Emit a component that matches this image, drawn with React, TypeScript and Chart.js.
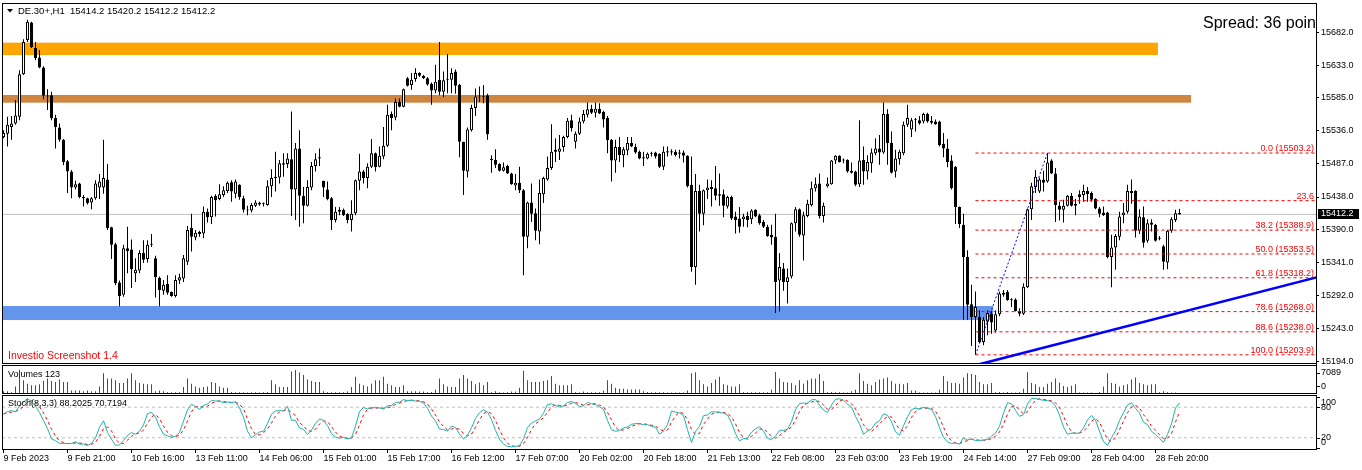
import React, { useEffect, useRef } from "react";
import { Chart, registerables } from "chart.js";

Chart.register(...registerables);

const FONT = "'Liberation Sans', Arial, sans-serif";
Chart.defaults.font.family = FONT;

// ---------------- data ----------------
const symbolTitle = "DE.30+,H1";
const lastQuote = ["15414.2", "15420.2", "15412.2", "15412.2"];
const spreadText = "Spread: 36 points";
const watermarkText = "Investio Screenshot 1.4";
const volumeTitle = "Volumes 123";
const stochTitle = "Stoch(8,3,3) 88.2025 70.7194";

const opens = [
  15527,15532,15542,15547,15557,15620,15671,15697,15659,15645,
  15630,15588,15589,15555,15541,15523,15491,15476,15452,15458,
  15438,15436,15430,15436,15452,15452,15464,15393,15368,15311,
  15293,15362,15360,15325,15329,15355,15346,15368,15347,15318,
  15299,15309,15297,15291,15314,15317,15342,15392,15378,15383,
  15384,15416,15408,15440,15435,15441,15447,15460,15443,15456,
  15436,15419,15418,15425,15429,15428,15426,15454,15466,15467,
  15488,15487,15494,15449,15510,15440,15425,15452,15484,15495,
  15462,15449,15436,15404,15419,15419,15413,15404,15414,15462,
  15476,15466,15483,15503,15483,15498,15514,15561,15556,15579,
  15572,15614,15604,15613,15622,15618,15614,15606,15596,15612,
  15594,15613,15612,15624,15604,15520,15476,15537,15570,15587,
  15587,15589,15493,15493,15487,15477,15484,15473,15455,15459,
  15448,15379,15430,15414,15387,15442,15464,15481,15505,15505,
  15512,15527,15552,15520,15532,15550,15560,15569,15563,15569,
  15564,15555,15523,15492,15512,15500,15507,15518,15512,15505,
  15497,15495,15502,15504,15502,15483,15506,15506,15505,15504,
  15504,15499,15456,15334,15447,15413,15448,15453,15451,15442,
  15442,15424,15438,15409,15406,15405,15410,15405,15419,15411,
  15401,15394,15382,15379,15314,15332,15312,15320,15399,15420,
  15381,15410,15426,15451,15458,15410,15454,15457,15492,15499,
  15493,15493,15477,15476,15457,15493,15476,15488,15503,15510,
  15504,15561,15518,15476,15494,15503,15545,15538,15552,15552,
  15550,15561,15551,15550,15550,15517,15510,15492,15483,15423,
  15397,15349,15279,15260,15260,15223,15253,15265,15240,15264,
  15293,15297,15285,15286,15269,15265,15304,15420,15453,15446,
  15464,15461,15492,15473,15425,15419,15425,15440,15428,15442,
  15441,15447,15444,15435,15421,15415,15415,15349,15363,15379,
  15411,15416,15447,15447,15388,15408,15373,15400,15397,15377,
  15365,15341,15388,15404,15414.2,
];
const highs = [
  15537,15557,15558,15582,15626,15672,15701,15698,15668,15656,
  15632,15598,15594,15560,15547,15524,15493,15478,15462,15459,
  15441,15437,15438,15463,15472,15523,15487,15394,15370,15314,
  15367,15394,15375,15347,15359,15374,15374,15383,15351,15320,
  15315,15322,15298,15322,15324,15352,15395,15413,15389,15388,
  15424,15421,15440,15442,15457,15454,15461,15463,15464,15457,
  15440,15425,15429,15433,15431,15430,15463,15479,15505,15493,
  15503,15503,15565,15518,15537,15453,15463,15490,15503,15510,
  15462,15461,15438,15423,15423,15421,15414,15433,15464,15502,
  15478,15488,15524,15504,15513,15542,15575,15565,15584,15584,
  15599,15616,15622,15629,15623,15619,15616,15608,15634,15668,
  15624,15650,15629,15627,15606,15520,15541,15575,15599,15602,
  15604,15591,15500,15509,15488,15489,15486,15474,15472,15483,
  15450,15431,15458,15421,15464,15468,15498,15546,15525,15530,
  15529,15555,15560,15535,15556,15567,15578,15575,15578,15577,
  15566,15558,15524,15523,15527,15512,15527,15527,15517,15507,
  15505,15504,15505,15505,15503,15513,15513,15509,15508,15508,
  15507,15500,15498,15472,15456,15449,15464,15463,15484,15473,
  15449,15440,15440,15416,15423,15413,15416,15420,15420,15413,
  15404,15397,15397,15413,15355,15340,15332,15400,15423,15421,
  15416,15434,15461,15467,15473,15430,15467,15493,15500,15500,
  15495,15494,15489,15477,15552,15513,15500,15510,15525,15530,
  15578,15568,15535,15508,15508,15550,15575,15555,15555,15558,
  15563,15563,15558,15553,15551,15533,15524,15500,15484,15424,
  15413,15359,15308,15298,15270,15260,15270,15269,15270,15298,
  15300,15300,15288,15288,15273,15310,15421,15459,15478,15467,
  15477,15503.2,15494,15481,15431,15434,15441,15444,15435,15448,
  15456,15453,15446,15436,15423,15424,15416,15382,15383,15416,
  15429,15456,15464,15448,15420,15424,15405,15405,15398,15380,
  15367,15389,15408,15419,15420.2,
];
const lows = [
  15525,15513,15523,15545,15552,15619,15668,15659,15641,15629,
  15583,15567,15552,15510,15520,15485,15444,15436,15449,15436,
  15424,15427,15420,15434,15435,15443,15389,15346,15307,15276,
  15290,15325,15303,15312,15325,15340,15341,15364,15289,15276,
  15293,15293,15290,15289,15309,15312,15337,15357,15374,15379,
  15377,15400,15398,15409,15433,15438,15444,15431,15436,15434,
  15415,15411,15415,15423,15425,15424,15425,15438,15446,15458,
  15468,15481,15410,15404,15394,15399,15424,15448,15476,15484,
  15438,15433,15389,15400,15411,15410,15399,15387,15411,15448,
  15458,15451,15481,15476,15482,15494,15512,15537,15552,15571,
  15571,15602,15597,15609,15616,15613,15603,15575,15592,15589,
  15586,15592,15592,15591,15497,15441,15467,15535,15558,15579,
  15577,15523,15474,15481,15476,15476,15472,15456,15448,15444,
  15322,15362,15401,15374,15368,15429,15462,15478,15490,15493,
  15505,15525,15535,15510,15530,15547,15556,15561,15556,15561,
  15541,15503,15461,15474,15490,15482,15500,15512,15502,15494,
  15484,15494,15498,15495,15481,15478,15498,15500,15498,15495,
  15489,15452,15327,15308,15387,15396,15435,15424,15433,15425,
  15408,15421,15404,15384,15385,15394,15393,15398,15408,15397,
  15392,15379,15367,15266,15268,15299,15280,15317,15387,15379,
  15344,15408,15424,15446,15406,15400,15452,15456,15487,15489,
  15488,15474,15473,15454,15453,15456,15464,15474,15500,15486,
  15502,15486,15473,15467,15486,15500,15542,15527,15535,15545,
  15547,15548,15546,15545,15513,15497,15482,15449,15398,15392,
  15256,15256,15217,15203.9,15221,15218,15233,15235,15237,15261,
  15290,15284,15275,15268,15261,15263,15303,15404,15444,15444,
  15446,15459,15472,15401,15403,15400,15424,15424,15411,15428,
  15431,15431,15431,15420,15408,15410,15347,15304,15330,15374,
  15399,15413,15428,15378,15383,15363,15370,15387,15372,15374,
  15330,15331,15385,15401,15412.2,
];
const closes = [
  15533,15545,15547,15559,15620,15668,15698,15660,15644,15630,
  15588,15587,15555,15542,15523,15490,15476,15452,15457,15438,
  15436,15429,15436,15458,15461,15466,15392,15367,15310,15291,
  15362,15358,15331,15330,15355,15345,15367,15367,15319,15300,
  15308,15296,15291,15315,15319,15347,15389,15379,15385,15386,
  15416,15408,15438,15433,15442,15448,15459,15446,15461,15438,
  15419,15418,15426,15430,15427,15428,15454,15466,15468,15488,
  15486,15495,15449,15510,15440,15425,15453,15484,15494,15497,
  15452,15435,15404,15416,15416,15411,15404,15413,15463,15476,
  15466,15483,15503,15482,15499,15514,15560,15555,15579,15572,
  15598,15603,15612,15622,15618,15614,15605,15596,15609,15594,
  15611,15612,15622,15603,15520,15477,15538,15570,15587,15587,
  15586,15531,15493,15486,15477,15482,15473,15457,15459,15448,
  15379,15430,15413,15388,15444,15466,15481,15505,15508,15510,
  15527,15551,15540,15532,15550,15561,15568,15563,15569,15562,
  15553,15522,15492,15512,15500,15509,15518,15513,15504,15495,
  15495,15502,15502,15498,15483,15505,15504,15504,15500,15502,
  15499,15454,15334,15447,15413,15448,15452,15450,15440,15440,
  15425,15438,15406,15404,15394,15409,15404,15418,15409,15399,
  15394,15380,15378,15312,15334,15312,15319,15399,15420,15382,
  15411,15428,15451,15457,15410,15425,15458,15492,15499,15490,
  15492,15476,15474,15456,15492,15476,15490,15504,15510,15504,
  15561,15518,15474,15495,15505,15545,15555,15552,15552,15547,
  15561,15550,15548,15546,15515,15510,15490,15451,15423,15398,
  15349,15278,15260,15275,15223,15256,15266,15252,15264,15295,
  15296,15285,15285,15269,15265,15305,15420,15454,15468,15464,
  15459,15489,15473,15426,15419,15425,15440,15425,15425,15438,
  15447,15442,15434,15421,15413,15411,15349,15363,15380,15409,
  15415,15447,15444,15388,15409,15370,15399,15397,15373,15376,
  15342,15388,15405,15414,15412.2,
];
const volumes = [
  630,630,315,2100,5250,4000,2940,2415,2415,2730,
  3780,4515,3780,3465,4200,3465,3465,840,840,840,
  630,840,630,630,2100,6090,4515,4515,4000,3150,
  3150,4515,6090,4000,3150,2940,2730,2730,630,840,
  630,315,315,315,315,1890,4515,2940,2100,1680,
  1890,2100,3465,3150,2100,1680,1680,420,315,315,
  315,210,315,315,210,315,420,4000,2730,1890,
  1890,1890,6615,7089,6300,5565,4200,3780,3465,3465,
  630,315,315,315,315,315,525,1890,5040,2940,
  2415,2100,2940,4000,4000,5040,2940,2415,1890,1890,
  2415,630,630,630,525,525,315,420,1050,4515,
  2730,2100,1890,1890,4515,5565,4515,3780,2730,3255,
  2415,3465,315,630,315,210,315,525,525,1680,
  6825,4000,3465,3465,3465,3780,4000,5250,2940,2415,
  2415,2415,2730,315,210,525,315,315,315,315,
  840,4000,2940,1680,1365,1365,1155,1155,1155,1155,
  630,420,315,315,315,315,210,210,210,210,
  210,840,6090,6405,4000,2730,2100,3150,4200,5040,
  2730,2415,2100,2100,2730,315,315,315,315,315,
  315,315,1050,6510,4515,3465,3255,3150,2415,4000,
  2940,4000,4515,4515,5880,3780,315,420,315,315,
  210,210,630,1050,6090,3780,2940,2415,3465,4200,
  4515,4830,3780,2940,2940,2730,3150,840,840,210,
  210,210,210,210,1050,5250,3675,3150,3150,2940,
  4830,6090,5880,5565,3465,2730,2730,3150,315,420,
  210,420,210,210,315,1365,6405,3150,2730,1890,
  1890,2940,3465,4515,3255,2205,1890,2310,2730,210,
  210,210,210,105,420,2100,6090,3150,2940,2100,
  2415,2730,4200,4830,3150,2730,2415,2730,2730,315,
  630,315,210,210,105,
];

const timeLabels = [
  "9 Feb 2023", "9 Feb 21:00", "10 Feb 16:00", "13 Feb 11:00", "14 Feb 06:00",
  "15 Feb 01:00", "15 Feb 17:00", "16 Feb 12:00", "17 Feb 07:00", "20 Feb 02:00",
  "20 Feb 18:00", "21 Feb 13:00", "22 Feb 08:00", "23 Feb 03:00", "23 Feb 19:00",
  "24 Feb 14:00", "27 Feb 09:00", "28 Feb 04:00", "28 Feb 20:00",
];
const barsPerLabel = 16;

const priceTicks = [15682.0, 15633.0, 15585.0, 15536.0, 15487.0, 15438.0, 15390.0, 15341.0, 15292.0, 15243.0, 15194.0];
const priceMin = 15190.3;
const priceMax = 15725.75;

// horizontal zones (rectangles)
const zoneTops = [15666.9, 15589.3, 15276.3];
const zoneBottoms = [15648.6, 15577.9, 15255.5];
const zoneStartBars = [-20, -20, -20];
const zoneEndBars = [288.6, 296.9, 247.4];
const zoneColors = ["#FFA500", "#CD853F", "#6495ED"];

// Fibonacci retracement
const fibLevels = [15503.2, 15432.6, 15388.9, 15353.5, 15318.2, 15268.0, 15238.0, 15203.9];
const fibLabels = ["0.0 (15503.2)", "23.6", "38.2 (15388.9)", "50.0 (15353.5)", "61.8 (15318.2)", "78.6 (15268.0)", "88.6 (15238.0)", "100.0 (15203.9)"];
const fibStartBar = 243;
const fibDiagBars = [243, 261];
const fibDiagPrices = [15203.9, 15503.2];

// blue trend line
const trendBars = [236, 340];
const trendPrices = [15177.8, 15336.7];

// volume axis labels
const volumeAxisValues = [7089, 0];
const volumeAxisLabels = ["7089", "0"];

// stochastic
const stochParams = [8, 3, 3];
const stochLevels = [80, 20];
const stochAxisValues = [100, 80, 20, 0];
const stochAxisLabels = ["100", "80", "20", "0"];

// ---------------- layout constants ----------------
const W = 1362;
const AXIS_W = 46;
const X_MIN = -0.375;
const X_MAX = 328.125;

function computeStochastic(kP: number, slow: number, dP: number) {
  const n = closes.length;
  const num: number[] = [];
  const den: number[] = [];
  for (let i = 0; i < n; i++) {
    let hh = -Infinity, ll = Infinity;
    for (let j = Math.max(0, i - kP + 1); j <= i; j++) {
      hh = Math.max(hh, highs[j]);
      ll = Math.min(ll, lows[j]);
    }
    num.push(closes[i] - ll);
    den.push(hh - ll);
  }
  const k: number[] = [];
  for (let i = 0; i < n; i++) {
    let sn = 0, sd = 0;
    for (let j = Math.max(0, i - slow + 1); j <= i; j++) { sn += num[j]; sd += den[j]; }
    k.push(sd > 0 ? (100 * sn) / sd : 50);
  }
  const d: number[] = [];
  for (let i = 0; i < n; i++) {
    let s = 0, c = 0;
    for (let j = Math.max(0, i - dP + 1); j <= i; j++) { s += k[j]; c++; }
    d.push(s / c);
  }
  return { k, d };
}

const framePlugin = {
  id: "frame",
  afterDraw(chart: any) {
    const { ctx, chartArea: a } = chart;
    ctx.save();
    ctx.strokeStyle = "#000";
    ctx.lineWidth = 1;
    ctx.strokeRect(a.left + 0.5, a.top + 0.5, a.right - a.left, a.bottom - a.top - 1);
    ctx.restore();
  },
};

const baseOptions = {
  responsive: false,
  animation: false as const,
  devicePixelRatio: 1,
  events: [] as any[],
  plugins: { legend: { display: false }, tooltip: { enabled: false } },
};

function mainConfig(): any {
  const idx = closes.map((_, i) => i);
  const last = closes[closes.length - 1];
  const datasets: any[] = [
    {
      type: "line",
      data: trendBars.map((b, k) => ({ x: b, y: trendPrices[k] })),
      borderColor: "#0000FF", borderWidth: 2.6, pointRadius: 0, clip: 0, order: 0,
    },
    {
      type: "line",
      data: fibDiagBars.map((b, k) => ({ x: b, y: fibDiagPrices[k] })),
      borderColor: "#0000FF", borderWidth: 1, borderDash: [2, 2], pointRadius: 0, clip: 0, order: 0,
    },
    ...fibLevels.map((lv) => ({
      type: "line",
      data: [{ x: fibStartBar, y: lv }, { x: X_MAX, y: lv }],
      borderColor: "#FF0000", borderWidth: 1, borderDash: [3, 3], pointRadius: 0, clip: 0, order: 1,
    })),
    {
      type: "bar",
      data: idx.map((i) => ({ x: i, y: [opens[i], closes[i]] })),
      backgroundColor: idx.map((i) => (closes[i] >= opens[i] ? "#FFFFFF" : "#000000")),
      borderColor: "#000000", borderWidth: 1, borderSkipped: false,
      barThickness: 3, minBarLength: 1, grouped: false, inflateAmount: 0, order: 2,
    },
    {
      type: "bar",
      data: idx.map((i) => ({ x: i, y: [lows[i], highs[i]] })),
      backgroundColor: "#000000", borderWidth: 0, barThickness: 1,
      grouped: false, inflateAmount: 0, order: 3,
    },
    {
      type: "line",
      data: [{ x: X_MIN, y: last }, { x: X_MAX, y: last }],
      borderColor: "#C0C0C0", borderWidth: 1, pointRadius: 0, clip: 0, order: 4,
    },
  ];

  const overlay = {
    id: "mainOverlay",
    beforeDatasetsDraw(chart: any) {
      const { ctx, chartArea: a, scales } = chart;
      const x = scales.x, y = scales.y;
      ctx.save();
      ctx.beginPath();
      ctx.rect(a.left, a.top, a.right - a.left, a.bottom - a.top);
      ctx.clip();
      zoneTops.forEach((t, k) => {
        const y0 = y.getPixelForValue(t);
        const y1 = y.getPixelForValue(zoneBottoms[k]);
        const x0 = Math.max(a.left, x.getPixelForValue(zoneStartBars[k]));
        const x1 = x.getPixelForValue(zoneEndBars[k]);
        ctx.fillStyle = zoneColors[k];
        ctx.fillRect(x0, y0, x1 - x0, y1 - y0);
      });
      ctx.restore();
    },
    afterDraw(chart: any) {
      const { ctx, chartArea: a, scales } = chart;
      const y = scales.y;
      ctx.save();
      // fib labels
      ctx.font = `9px ${FONT}`;
      ctx.fillStyle = "#FF0000";
      ctx.textAlign = "right";
      ctx.textBaseline = "alphabetic";
      fibLevels.forEach((lv, k) => {
        ctx.fillText(fibLabels[k], a.right - 2, y.getPixelForValue(lv) - 2);
      });
      // header
      ctx.fillStyle = "#000";
      ctx.beginPath();
      ctx.moveTo(a.left + 5, a.top + 6);
      ctx.lineTo(a.left + 11, a.top + 6);
      ctx.lineTo(a.left + 8, a.top + 9.5);
      ctx.closePath();
      ctx.fill();
      ctx.font = `9.5px ${FONT}`;
      ctx.textAlign = "left";
      ctx.textBaseline = "middle";
      ctx.fillText(`${symbolTitle}  ${lastQuote.join(" ")}`, a.left + 16, a.top + 8);
      // watermark
      ctx.fillStyle = "#FF0000";
      ctx.font = `10.5px ${FONT}`;
      ctx.fillText(watermarkText, a.left + 6, a.bottom - 8);
      // spread (clipped by the chart frame)
      ctx.save();
      ctx.beginPath();
      ctx.rect(a.left, a.top, a.right - a.left, a.bottom - a.top);
      ctx.clip();
      ctx.fillStyle = "#000";
      ctx.font = `16px ${FONT}`;
      ctx.textBaseline = "alphabetic";
      ctx.fillText(spreadText, a.right - 113, a.top + 25);
      ctx.restore();
      // bid price label on axis
      const by = Math.round(y.getPixelForValue(last));
      ctx.fillStyle = "#000";
      ctx.fillRect(a.right + 2, by - 5, 41, 10);
      ctx.fillStyle = "#FFF";
      ctx.font = `9px ${FONT}`;
      ctx.textBaseline = "middle";
      ctx.fillText(last.toFixed(1), a.right + 5, by);
      ctx.restore();
    },
  };

  return {
    type: "bar",
    data: { datasets },
    options: {
      ...baseOptions,
      layout: { padding: { left: 2, top: 3, right: 0, bottom: 1 } },
      scales: {
        x: { type: "linear", min: X_MIN, max: X_MAX, offset: false, display: false },
        y: {
          type: "linear", position: "right", min: priceMin, max: priceMax,
          afterBuildTicks: (s: any) => { s.ticks = priceTicks.map((v) => ({ value: v })); },
          afterFit: (s: any) => { s.width = AXIS_W; s.paddingTop = 0; s.paddingBottom = 0; },
          ticks: { autoSkip: false, padding: 2, color: "#000", font: { size: 9 }, callback: (v: any) => Number(v).toFixed(1) },
          grid: { drawOnChartArea: false, drawTicks: true, tickLength: 3, color: "#000" },
          border: { display: true, color: "#000" },
        },
      },
    },
    plugins: [overlay, framePlugin],
  };
}

function volumeConfig(): any {
  const idx = volumes.map((_, i) => i);
  const colors = idx.map((i) => (i === 0 || volumes[i] > volumes[i - 1] ? "#008000" : "#FF0000"));
  const overlay = {
    id: "volOverlay",
    afterDraw(chart: any) {
      const { ctx, chartArea: a, scales } = chart;
      const y = scales.y;
      ctx.save();
      ctx.fillStyle = "#000";
      ctx.font = `9px ${FONT}`;
      ctx.textAlign = "left";
      ctx.textBaseline = "middle";
      ctx.fillText(volumeTitle, a.left + 6, a.top + 10);
      const offs = [3, -7];
      volumeAxisValues.forEach((v, k) => {
        const yy = y.getPixelForValue(v) + offs[k];
        ctx.fillText(volumeAxisLabels[k], a.right + 5, yy);
        ctx.fillRect(a.right + 1, Math.round(yy), 3, 1);
      });
      ctx.restore();
    },
  };
  return {
    type: "bar",
    data: {
      datasets: [{
        data: idx.map((i) => ({ x: i, y: volumes[i] })),
        backgroundColor: colors, borderWidth: 0, barThickness: 1, inflateAmount: 0,
      }],
    },
    options: {
      ...baseOptions,
      layout: { padding: { left: 2, top: 0, right: AXIS_W, bottom: 1 } },
      scales: {
        x: { type: "linear", min: X_MIN, max: X_MAX, offset: false, display: false },
        y: { type: "linear", min: -213, max: 8610, display: false },
      },
    },
    plugins: [overlay, framePlugin],
  };
}

function stochConfig(): any {
  const { k, d } = computeStochastic(stochParams[0], stochParams[1], stochParams[2]);
  const overlay = {
    id: "stochOverlay",
    afterDraw(chart: any) {
      const { ctx, chartArea: a, scales } = chart;
      const y = scales.y;
      ctx.save();
      ctx.fillStyle = "#000";
      ctx.font = `9px ${FONT}`;
      ctx.textAlign = "left";
      ctx.textBaseline = "middle";
      ctx.fillText(stochTitle, a.left + 6, a.top + 9);
      const offs = [5, 0, 0, -5];
      stochAxisValues.forEach((v, i) => {
        const yy = y.getPixelForValue(v);
        ctx.fillRect(a.right + 1, Math.round(yy), 3, 1);
        ctx.fillText(stochAxisLabels[i], a.right + 5, yy + offs[i]);
      });
      ctx.restore();
    },
  };
  return {
    type: "line",
    data: {
      datasets: [
        {
          data: k.map((v, i) => ({ x: i, y: v })),
          borderColor: "#20B2AA", borderWidth: 1, pointRadius: 0, tension: 0, clip: 0, order: 0,
        },
        {
          data: d.map((v, i) => ({ x: i, y: v })),
          borderColor: "#FF0000", borderWidth: 1, borderDash: [3, 3], pointRadius: 0, tension: 0, clip: 0, order: 1,
        },
        ...stochLevels.map((lv) => ({
          data: [{ x: X_MIN, y: lv }, { x: X_MAX, y: lv }],
          borderColor: "#C0C0C0", borderWidth: 1, borderDash: [3, 3], pointRadius: 0, clip: 0, order: 2,
        })),
      ],
    },
    options: {
      ...baseOptions,
      layout: { padding: { left: 2, top: 0, right: AXIS_W, bottom: 0 } },
      scales: {
        x: {
          type: "linear", position: "bottom", min: X_MIN, max: X_MAX, offset: false,
          afterBuildTicks: (s: any) => { s.ticks = timeLabels.map((_, i) => ({ value: i * barsPerLabel })); },
          afterFit: (s: any) => { s.height = 20; s.paddingLeft = 0; s.paddingRight = 0; },
          ticks: {
            autoSkip: false, maxRotation: 0, minRotation: 0, align: "start", padding: 0,
            color: "#000", font: { size: 9 }, callback: (_v: any, i: number) => timeLabels[i],
          },
          grid: { drawOnChartArea: false, drawTicks: true, tickLength: 3, color: "#000", offset: false },
          border: { display: false },
        },
        y: { type: "linear", min: -4, max: 104, display: false },
      },
    },
    plugins: [overlay, framePlugin],
  };
}

function ChartCanvas({ top, height, build }: { top: number; height: number; build: () => any }) {
  const ref = useRef<HTMLCanvasElement>(null);
  useEffect(() => {
    if (!ref.current) return;
    const chart = new Chart(ref.current, build());
    return () => chart.destroy();
  }, []);
  return (
    <canvas
      ref={ref}
      width={W}
      height={height}
      style={{ position: "absolute", left: 0, top, width: W, height, display: "block" }}
    />
  );
}

export default function App() {
  return (
    <div style={{ position: "fixed", left: 0, top: 0, width: W, height: 470, background: "#FFFFFF", overflow: "hidden" }}>
      <ChartCanvas top={0} height={365} build={mainConfig} />
      <ChartCanvas top={365} height={30} build={volumeConfig} />
      <ChartCanvas top={395} height={75} build={stochConfig} />
    </div>
  );
}
